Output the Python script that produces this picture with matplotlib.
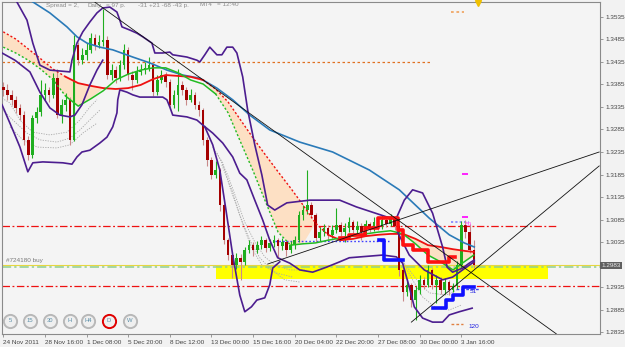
import matplotlib
matplotlib.use("Agg")
import matplotlib.pyplot as plt
import matplotlib.transforms as mtransforms
import numpy as np

plt.rcParams['font.family'] = ['Liberation Sans', 'DejaVu Sans']

# ---- candles: bar index 0..113, open of a bar = close of the bar before ----
first_open = 1.3380
closes = [1.3373, 1.3362, 1.3351, 1.3333, 1.3317, 1.3262, 1.3228, 1.3311, 1.3324, 1.3362,
          1.3373, 1.3362, 1.3399, 1.3317, 1.3340, 1.3351, 1.3262, 1.3473, 1.3439, 1.3451,
          1.3462, 1.3488, 1.3473, 1.3479, 1.3484, 1.3406, 1.3417, 1.3399, 1.3428, 1.3462,
          1.3406, 1.3395, 1.3413, 1.3417, 1.3422, 1.3428, 1.3368, 1.3395, 1.3406, 1.3391,
          1.3340, 1.3362, 1.3384, 1.3373, 1.3351, 1.3362, 1.3340, 1.3328, 1.3262, 1.3217,
          1.3184, 1.3195, 1.3117, 1.3039, 1.3006, 1.2984, 1.3000, 1.2991, 1.3017, 1.3028,
          1.3017, 1.3028, 1.3039, 1.3022, 1.3033, 1.3039, 1.3026, 1.3035, 1.3017, 1.3028,
          1.3039, 1.3095, 1.3106, 1.3117, 1.3095, 1.3044, 1.3057, 1.3066, 1.3051, 1.3062,
          1.3073, 1.3057, 1.3066, 1.3080, 1.3062, 1.3071, 1.3057, 1.3075, 1.3066, 1.3080,
          1.3071, 1.3084, 1.3075, 1.3088, 1.3071, 1.2973, 1.2924, 1.2940, 1.2906, 1.2928,
          1.2951, 1.2940, 1.2973, 1.2940, 1.2951, 1.2928, 1.2946, 1.2928, 1.2937, 1.2984,
          1.3073, 1.3057, 1.3017, 1.2983]
highs = [1.3390, 1.3385, 1.3372, 1.3360, 1.3342, 1.3325, 1.3270, 1.3318, 1.3335, 1.3395,
         1.3388, 1.3380, 1.3410, 1.3420, 1.3352, 1.3365, 1.3358, 1.3495, 1.3480, 1.3465,
         1.3478, 1.3500, 1.3498, 1.3495, 1.3552, 1.3492, 1.3430, 1.3425, 1.3440, 1.3475,
         1.3468, 1.3415, 1.3425, 1.3430, 1.3435, 1.3445, 1.3432, 1.3405, 1.3418, 1.3412,
         1.3398, 1.3372, 1.3420, 1.3392, 1.3380, 1.3375, 1.3368, 1.3348, 1.3332, 1.3268,
         1.3225, 1.3215, 1.3200, 1.3122, 1.3045, 1.3012, 1.3010, 1.3008, 1.3025, 1.3040,
         1.3035, 1.3038, 1.3048, 1.3045, 1.3042, 1.3050, 1.3045, 1.3045, 1.3040, 1.3038,
         1.3048, 1.3105, 1.3118, 1.3195, 1.3125, 1.3100, 1.3068, 1.3075, 1.3072, 1.3072,
         1.3110, 1.3080, 1.3078, 1.3090, 1.3085, 1.3082, 1.3078, 1.3085, 1.3080, 1.3090,
         1.3085, 1.3095, 1.3090, 1.3098, 1.3092, 1.3075, 1.2980, 1.2952, 1.2945, 1.2938,
         1.2962, 1.2958, 1.2985, 1.2978, 1.2962, 1.2958, 1.2955, 1.2950, 1.2945, 1.2992,
         1.3082, 1.3085, 1.3075, 1.3040]
lows = [1.3360, 1.3350, 1.3340, 1.3322, 1.3305, 1.3250, 1.3217, 1.3222, 1.3300, 1.3315,
        1.3350, 1.3345, 1.3355, 1.3310, 1.3300, 1.3325, 1.3250, 1.3260, 1.3428, 1.3430,
        1.3440, 1.3455, 1.3462, 1.3465, 1.3470, 1.3398, 1.3395, 1.3388, 1.3392, 1.3420,
        1.3395, 1.3373, 1.3388, 1.3405, 1.3408, 1.3415, 1.3360, 1.3362, 1.3388, 1.3380,
        1.3330, 1.3333, 1.3325, 1.3362, 1.3340, 1.3345, 1.3330, 1.3315, 1.3250, 1.3205,
        1.3175, 1.3178, 1.3105, 1.3030, 1.2995, 1.2955, 1.2975, 1.2950, 1.2985, 1.3010,
        1.3005, 1.3010, 1.3020, 1.3012, 1.3015, 1.3025, 1.3000, 1.3018, 1.3005, 1.3010,
        1.3020, 1.3035, 1.3085, 1.3098, 1.3088, 1.3035, 1.3038, 1.3048, 1.3040, 1.3045,
        1.3055, 1.3048, 1.3035, 1.3058, 1.3055, 1.3055, 1.3040, 1.3050, 1.3058, 1.3060,
        1.3062, 1.3065, 1.3068, 1.3070, 1.3062, 1.2960, 1.2905, 1.2915, 1.2890, 1.2862,
        1.2920, 1.2930, 1.2935, 1.2930, 1.2900, 1.2920, 1.2920, 1.2918, 1.2925, 1.2930,
        1.2978, 1.3045, 1.3010, 1.2978]

# ---- moving averages, read every 3 bars ----
ma_bars = list(range(0, 112, 3)) + [113]
red_ma = [1.3502, 1.3486, 1.3464, 1.3442, 1.3419, 1.3402, 1.3388, 1.3382, 1.3377, 1.3375,
          1.3377, 1.3384, 1.3397, 1.3406, 1.3404, 1.3402, 1.3395, 1.3375, 1.3346, 1.3306,
          1.3266, 1.3228, 1.3191, 1.3155, 1.3117, 1.3077, 1.3051, 1.3039, 1.3042, 1.3048,
          1.3051, 1.3053, 1.3053, 1.3042, 1.3028, 1.3024, 1.3019, 1.3015, 1.3013]
green_ma = [1.3468, 1.3455, 1.3439, 1.3419, 1.3395, 1.3359, 1.3337, 1.3353, 1.3371, 1.3395,
            1.3408, 1.3417, 1.3422, 1.3422, 1.3411, 1.3395, 1.3386, 1.3364, 1.3322, 1.3257,
            1.3193, 1.3124, 1.3057, 1.3028, 1.3031, 1.3033, 1.3039, 1.3044, 1.3048, 1.3053,
            1.3057, 1.3060, 1.3053, 1.3031, 1.3006, 1.2991, 1.2973, 1.2993, 1.3006]

blue_ma_x = [4.5, 11.2, 15.3, 17.7, 20.1, 23.2, 26.3, 31.1, 35.2, 39.3, 43.1, 47.2, 51.3,
             55.1, 59.2, 64.0, 71.2, 79.1, 87.9, 95.1, 102.3, 107.1, 110.7, 113.1]
blue_ma_y = [1.3584, 1.3544, 1.3513, 1.3491, 1.3477, 1.3468, 1.3462, 1.3446, 1.3433, 1.3417,
             1.3406, 1.3399, 1.3377, 1.3351, 1.3317, 1.3284, 1.3257, 1.3235, 1.3195, 1.3151,
             1.3088, 1.3051, 1.3033, 1.3024]

# ---- bands (purple) ----
upper_band_x = [2.6, 3.3, 5.7, 7.1, 8.8, 11.2, 16.0, 16.5, 17.7, 19.1, 20.8, 22.5, 23.9, 25.6,
                27.3, 28.0, 28.5, 30.4, 32.1, 33.5, 35.7, 36.4, 38.3, 40.0, 40.7, 44.1, 46.5,
                47.2, 48.4, 49.6, 51.3, 52.5, 53.7, 55.1, 56.1, 57.5, 58.7, 60.4, 62.1, 63.5,
                65.2, 68.1, 73.6, 80.8, 84.8, 92.0, 94.4, 96.3, 98.3, 100.7, 103.1, 105.5,
                106.6, 107.9, 110.3, 111.9, 113.1]
upper_band_y = [1.3584, 1.3568, 1.3528, 1.3477, 1.3428, 1.3417, 1.3413, 1.3439, 1.3477, 1.3502,
                1.3524, 1.3544, 1.3555, 1.3557, 1.3546, 1.3528, 1.3513, 1.3506, 1.3499, 1.3491,
                1.3477, 1.3455, 1.3455, 1.3457, 1.3451, 1.3446, 1.3439, 1.3435, 1.3451, 1.3468,
                1.3451, 1.3451, 1.3468, 1.3468, 1.3455, 1.3402, 1.3328, 1.3251, 1.3184, 1.3117,
                1.3106, 1.3122, 1.3128, 1.3128, 1.3113, 1.3091, 1.3088, 1.3128, 1.3151, 1.3144,
                1.3099, 1.3024, 1.2979, 1.2968, 1.2977, 1.2988, 1.2995]
lower_band_x = [-0.3, 2.3, 4.0, 5.9, 7.1, 9.5, 14.3, 16.5, 17.7, 18.9, 20.8, 23.2, 24.9, 26.3,
                27.3, 27.5, 28.0, 29.7, 31.1, 32.8, 35.9, 38.3, 39.3, 40.0, 40.7, 44.1, 46.5,
                47.9, 50.3, 52.7, 55.1, 56.8, 58.5, 60.4, 62.3, 64.0, 65.9, 68.8, 71.2, 74.3,
                77.6, 80.8, 83.1, 91.1, 94.4, 95.9, 97.5, 98.7, 100.7, 103.1, 105.5, 107.1,
                109.5, 112.6]
lower_band_y = [1.3340, 1.3284, 1.3246, 1.3191, 1.3211, 1.3213, 1.3211, 1.3208, 1.3224, 1.3235,
                1.3239, 1.3255, 1.3268, 1.3291, 1.3322, 1.3351, 1.3373, 1.3368, 1.3362, 1.3357,
                1.3357, 1.3357, 1.3351, 1.3335, 1.3317, 1.3313, 1.3306, 1.3295, 1.3277, 1.3255,
                1.3224, 1.3188, 1.3173, 1.3128, 1.3084, 1.3039, 1.3000, 1.2988, 1.2973, 1.2968,
                1.2979, 1.2991, 1.3000, 1.3006, 1.3002, 1.2988, 1.2935, 1.2891, 1.2866, 1.2857,
                1.2857, 1.2873, 1.2880, 1.2888]
inner_left_x = [-0.3, 2.8, 6.4, 8.8, 11.2, 13.6, 16.0, 17.2, 18.9, 20.8, 22.5, 23.9]
inner_left_y = [1.3455, 1.3439, 1.3413, 1.3368, 1.3333, 1.3317, 1.3313, 1.3317, 1.3340, 1.3384,
                1.3417, 1.3439]
dip_band_x = [48.4, 50.3, 52.0, 53.4, 55.1, 56.8, 58.0, 59.6, 60.9, 62.8, 64.0, 64.7, 66.4]
dip_band_y = [1.3291, 1.3251, 1.3195, 1.3111, 1.3006, 1.2917, 1.2880, 1.2891, 1.2906, 1.2911,
              1.2940, 1.2977, 1.2991]
inner_right_x = [94.7, 97.5, 101.1, 105.5, 107.9, 111.2, 113.1]
inner_right_y = [1.3057, 1.3006, 1.2973, 1.2951, 1.2957, 1.2979, 1.2991]

# ---- stepped levels ----
step_red_x = [80.8, 83.1, 86.8, 89.9, 94.7, 95.9, 98.3, 101.9, 107.1, 108.6]
step_red_y = [1.3044, 1.3051, 1.3066, 1.3088, 1.3062, 1.3028, 1.3017, 1.2991, 1.3002, 1.3002]
step_blue1_x = [90.3, 91.5, 95.9]
step_blue1_y = [1.3039, 1.2995, 1.2995]
step_blue2_x = [103.1, 106.4, 107.9, 110.3, 113.1]
step_blue2_y = [1.2888, 1.2906, 1.2917, 1.2935, 1.2935]

# ---- grey fractal channels (dotted) ----
grey_lines = [
    ([-0.8, 1.6, 4.0, 7.1, 11.2, 15.3, 18.4, 20.8, 22.5],
     [1.3357, 1.3344, 1.3306, 1.3279, 1.3273, 1.3279, 1.3306, 1.3335, 1.3351]),
    ([-0.8, 2.3, 5.7, 8.8, 12.9, 16.0, 18.4, 21.5, 23.2],
     [1.3335, 1.3306, 1.3277, 1.3262, 1.3257, 1.3266, 1.3284, 1.3313, 1.3328]),
    ([1.6, 4.7, 8.1, 12.9, 16.0, 19.1, 22.5],
     [1.3291, 1.3262, 1.3246, 1.3244, 1.3251, 1.3277, 1.3299]),
    ([50.3, 52.7, 54.4, 56.1, 58.0, 59.9, 62.1, 65.7, 69.5],
     [1.3246, 1.3211, 1.3157, 1.3113, 1.3062, 1.3017, 1.2984, 1.2966, 1.2957]),
    ([51.3, 53.9, 56.1, 58.0, 60.4, 62.8, 65.2, 68.8, 72.8],
     [1.3233, 1.3184, 1.3128, 1.3079, 1.3035, 1.3002, 1.2984, 1.2973, 1.2973]),
    ([52.5, 54.9, 56.8, 59.2, 61.6, 64.4, 67.6, 71.2],
     [1.3206, 1.3151, 1.3095, 1.3039, 1.3000, 1.2973, 1.2951, 1.2946]),
    ([95.1, 97.5, 99.9, 102.3, 106.4, 108.8],
     [1.3002, 1.2973, 1.2944, 1.2922, 1.2917, 1.2928]),
    ([95.9, 98.3, 100.7, 104.0, 107.1, 110.0],
     [1.2991, 1.2951, 1.2913, 1.2888, 1.2884, 1.2895]),
]

# ---- trend lines and levels ----
trend_lines = [((22.0, 1.3568), (132.8, 1.2831)),
               ((63.5, 1.2986), (143.1, 1.3235)),
               ((98.0, 1.2857), (143.1, 1.3204))]
zone_low, zone_high = 1.2953, 1.2981
zone_start, zone_end = 51.0, 130.9
bid = 1.2983
order_price = 1.2979
stop_price = 1.2937
upper_level = 1.3071
orange_level = 1.3435

date_ticks = list(range(0, 111, 10))
date_labels = ["24 Nov 2011", "28 Nov 16:00", "1 Dec 08:00", "5 Dec 20:00", "8 Dec 12:00",
               "13 Dec 00:00", "15 Dec 16:00", "20 Dec 04:00", "22 Dec 20:00",
               "27 Dec 08:00", "30 Dec 00:00", "3 Jan 16:00"]
price_ticks = [1.2835, 1.2885, 1.2935, 1.3035, 1.3085, 1.3135, 1.3185, 1.3235, 1.3285,
               1.3335, 1.3385, 1.3435, 1.3485, 1.3535]
timeframes = ["5", "15", "30", "H", "H4", "D", "W"]

W, H = 625, 347
fig = plt.figure(figsize=(W / 100, H / 100), dpi=100, facecolor="#f2f2f2")
ax = fig.add_axes([2 / W, 13 / H, 598 / W, 332 / H])
ax.set_facecolor("#f4f4f4")
ax.set_xlim(-0.3, 143.3)
ax.set_ylim(1.28306, 1.35683)

PURPLE = "#4c1d8f"
DD = (0, (6, 2, 1.5, 2))

# background objects
ax.fill_between([zone_start, zone_end], zone_low, zone_high, color="#ffff00", lw=0, zorder=1)
mb = np.array(ma_bars)
rm = np.array(red_ma)
gm = np.array(green_ma)
cloud = (rm > gm) & ((mb <= 21) | ((mb >= 51) & (mb <= 72)) | (mb >= 96))
ax.fill_between(mb, rm, gm, where=cloud, interpolate=True, color="#fde0c4", lw=0, zorder=1)

for gx, gy in grey_lines:
    ax.plot(gx, gy, color="#a8a8a8", lw=0.6, ls=(0, (1.5, 1.5)), zorder=2)

ax.hlines(orange_level, -0.3, 102.6, colors="#e07020", lw=0.9, linestyles=[(0, (2, 2))], zorder=2)
ax.hlines(upper_level, -0.3, 132.8, colors="#ee1111", lw=0.9, linestyles=[DD], zorder=2)
ax.hlines(stop_price, -0.3, 143.3, colors="#ee1111", lw=0.9, linestyles=[DD], zorder=2)
ax.hlines(bid, -0.3, 143.3, colors="#e6d640", lw=0.8, zorder=2)
ax.hlines(order_price, -0.3, 143.3, colors="#8fcf8f", lw=1.1, linestyles=[DD], zorder=2)
ax.hlines(1.3546, 107.6, 110.7, colors="#f0a868", lw=1.3, linestyles=[(0, (1.5, 1.5))], zorder=2)
ax.hlines(1.2853, 107.6, 110.3, colors="#e08040", lw=1.0, linestyles=[(0, (2, 1.5))], zorder=2)
ax.hlines(1.3037, 65.2, 92.7, colors="#4040ff", lw=1.0, linestyles=[(0, (1.2, 1.5))], zorder=2)
ax.hlines(1.3079, 107.6, 111.9, colors="#8a8aff", lw=1.3, linestyles=[(0, (1.2, 1.2))], zorder=2)
ax.hlines(1.2931, 108.8, 114.3, colors="#4040ff", lw=1.0, linestyles=[(0, (2, 1.5))], zorder=2)

# candles
opens = [first_open] + closes[:-1]
for i, (o, h, l, c) in enumerate(zip(opens, highs, lows, closes)):
    up = c >= o
    body = "#1fae1f" if up else "#a40000"
    wick = "#1fae1f" if up else "#c98a8a"
    ax.vlines(i, l, h, colors=wick, lw=0.8, zorder=3)
    ax.bar(i, max(abs(c - o), 0.00008), bottom=min(o, c), width=0.62, color=body, lw=0, zorder=3)

# moving averages
ax.plot(blue_ma_x, blue_ma_y, color="#2a7ab8", lw=1.2, zorder=4)
dot = (0, (1.5, 1.5))
ax.plot(mb[:6], rm[:6], color="#ee1111", lw=1.0, ls=dot, zorder=4)
ax.plot(mb[5:17], rm[5:17], color="#ee1111", lw=1.3, zorder=4)
ax.plot(mb[16:27], rm[16:27], color="#ee1111", lw=1.0, ls=dot, zorder=4)
ax.plot(mb[26:], rm[26:], color="#ee1111", lw=1.3, zorder=4)
ax.plot(mb[:6], gm[:6], color="#22bb22", lw=1.0, ls=dot, zorder=4)
ax.plot(mb[5:18], gm[5:18], color="#22bb22", lw=1.1, zorder=4)
ax.plot(mb[17:24], gm[17:24], color="#22bb22", lw=1.0, ls=dot, zorder=4)
ax.plot(mb[23:], gm[23:], color="#22bb22", lw=1.1, zorder=4)

# bands
for bx, by in [(upper_band_x, upper_band_y), (lower_band_x, lower_band_y),
               (inner_left_x, inner_left_y), (dip_band_x, dip_band_y),
               (inner_right_x, inner_right_y)]:
    ax.plot(bx, by, color=PURPLE, lw=1.2, zorder=5)

# steps
ax.step(step_red_x, step_red_y, where="post", color="#ff1010", lw=2.6, zorder=6)
ax.step(step_blue1_x, step_blue1_y, where="post", color="#1010ff", lw=2.6, zorder=6)
ax.step(step_blue2_x, step_blue2_y, where="post", color="#1010ff", lw=2.6, zorder=6)

for (x0, y0), (x1, y1) in trend_lines:
    ax.plot([x0, x1], [y0, y1], color="#111111", lw=0.6, zorder=6)

# small markers and labels on the right
ax.hlines([1.3186, 1.3091], 110.2, 111.5, colors="#ff00ff", lw=1.2, zorder=6)
ax.text(111.9, 1.3073, "50", color="#ff40ff", fontsize=4, ha="center", va="center", zorder=7)
ax.text(112.9, 1.2924, "51", color="#2020e0", fontsize=4.6, ha="center", va="center", zorder=7)
ax.text(112.9, 1.2848, "120", color="#2020e0", fontsize=4.6, ha="center", va="center", zorder=7)
ax.plot([114.1], [1.3566], marker="v", color="#f0c000", ms=4, clip_on=False, zorder=7)
ax.text(0.6, 1.2988, "#724180 buy", color="#7a7a7a", fontsize=4.6, va="bottom", ha="left", zorder=7)

# axes decoration
for s in ax.spines.values():
    s.set_color("#8a8a8a")
    s.set_linewidth(0.8)
ax.yaxis.tick_right()
ax.set_yticks(price_ticks)
ax.set_yticklabels(["%.4f" % p for p in price_ticks])
ax.set_xticks(date_ticks)
ax.set_xticklabels(date_labels)
for lbl in ax.get_xticklabels():
    lbl.set_ha("left")
ax.tick_params(axis="y", length=2.5, width=0.6, colors="#8a8a8a", labelsize=4.6,
               labelcolor="#444444", pad=1.5)
ax.tick_params(axis="x", length=2.5, width=0.6, colors="#8a8a8a", labelsize=4.6,
               labelcolor="#444444", pad=1.5)

blend = mtransforms.blended_transform_factory(ax.transAxes, ax.transData)
ax.text(1.002, bid, "%.4f" % bid, transform=blend, color="#e8e8e8", fontsize=4.6,
        ha="left", va="center", zorder=8,
        bbox=dict(boxstyle="square,pad=0.18", fc="#606060", ec="none"))

# header text
for px, txt in [(46, "Spread = 2,"), (88, "Daily"), (106, "= 97 p."),
                (138, "-31 +21 -68 -43 p."), (200, "MT4"), (217, "= 12:40")]:
    fig.text(px / W, 1 - 5 / H, txt, color="#8c8c8c", fontsize=4.6, ha="left", va="center")

# timeframe buttons
for px, tf in zip([10, 30, 50, 70, 88, 109, 130], timeframes):
    edge = "#e00000" if tf == "D" else "#b8b8b8"
    ax.plot([(px - 2) / 598], [(334 - 321) / 332], marker="o", ms=9.5, mfc="#efefef",
            mec=edge, mew=1.4, transform=ax.transAxes, zorder=8)
    ax.text((px - 2) / 598, (334 - 321) / 332, tf, transform=ax.transAxes, color="#5b8fa8",
            fontsize=4.2, ha="center", va="center", zorder=9)

fig.savefig("out.png", dpi=100, facecolor=fig.get_facecolor())
